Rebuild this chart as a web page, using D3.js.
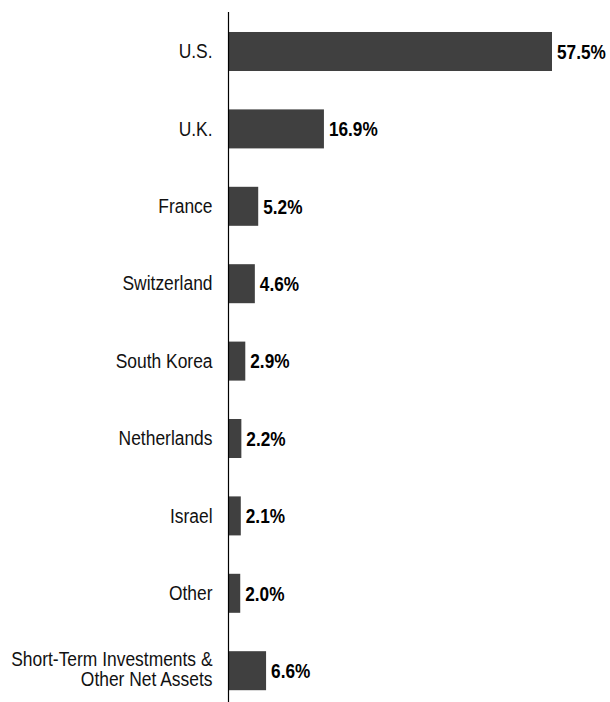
<!DOCTYPE html>
<html>
<head>
<meta charset="utf-8">
<script src="https://cdn.jsdelivr.net/npm/d3@7"></script>
<style>
  html, body { margin: 0; padding: 0; background: #fff; }
  svg { display: block; }
  .cat { font-family: "Liberation Sans", Arial, sans-serif; font-size: 21px; fill: #111; }
  .val { font-family: "Liberation Sans", Arial, sans-serif; font-size: 21px; font-weight: bold; fill: #000; }
</style>
</head>
<body>
<svg id="chart"></svg>
<script>
// 데이터
const countries = ["U.S.", "U.K.", "France", "Switzerland", "South Korea", "Netherlands", "Israel", "Other", "Short-Term Investments & Other Net Assets"];
const weights = [57.5, 16.9, 5.2, 4.6, 2.9, 2.2, 2.1, 2.0, 6.6];
const valueLabels = ["57.5%", "16.9%", "5.2%", "4.6%", "2.9%", "2.2%", "2.1%", "2.0%", "6.6%"];

const W = 610, H = 702;
const axisX = 229;
const catSx = 0.83, valSx = 0.82; // narrow font 대신 가로 축소
const svg = d3.select("#chart").attr("width", W).attr("height", H);

const y = d3.scaleBand()
  .domain(countries)
  .range([12.8, 12.8 + countries.length * 77.4])
  .paddingInner(0.496)
  .paddingOuter(0.248);

const x = d3.scaleLinear()
  .domain([0, 57.5])
  .range([axisX, 552]);

// bars
svg.selectAll("rect.bar")
  .data(countries)
  .enter()
  .append("rect")
  .attr("class", "bar")
  .attr("x", x(0))
  .attr("y", d => y(d))
  .attr("width", (d, i) => x(weights[i]) - x(0))
  .attr("height", y.bandwidth())
  .attr("fill", "#404040");

// value labels
svg.selectAll("text.val")
  .data(countries)
  .enter()
  .append("text")
  .attr("class", "val")
  .attr("transform", (d, i) => `translate(${x(weights[i]) + 5},${y(d) + y.bandwidth() / 2}) scale(${valSx},1)`)
  .attr("dy", "0.35em")
  .text((d, i) => valueLabels[i]);

// category axis (ticks hidden, labels only)
const axis = d3.axisLeft(y).tickSize(0).tickPadding(16);
const ax = svg.append("g").attr("transform", `translate(${axisX - 0.5},0)`).call(axis);
ax.select(".domain").remove();
ax.selectAll(".tick text")
  .attr("class", "cat")
  .attr("font-family", null)
  .attr("font-size", null)
  .attr("x", -16 / catSx)
  .attr("transform", `scale(${catSx},1)`)
  .each(function (d) {
    if (d.indexOf("&") > 0) {
      const t = d3.select(this);
      const parts = ["Short-Term Investments &", "Other Net Assets"];
      t.text(null).attr("dy", null);
      parts.forEach((p, k) => {
        t.append("tspan")
          .attr("x", -16 / catSx)
          .attr("dy", k === 0 ? "-0.22em" : "0.93em")
          .text(p);
      });
    }
  });

// vertical axis line
svg.append("line")
  .attr("x1", axisX - 0.5).attr("x2", axisX - 0.5)
  .attr("y1", 12).attr("y2", H)
  .attr("stroke", "#000")
  .attr("stroke-width", 1.2);
</script>
</body>
</html>
